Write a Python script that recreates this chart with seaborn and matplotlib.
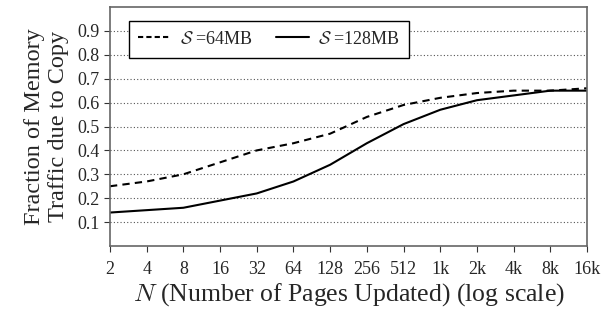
import matplotlib
matplotlib.use("Agg")
import matplotlib.pyplot as plt
import seaborn as sns
import pandas as pd
import numpy as np

x_labels = ["2", "4", "8", "16", "32", "64", "128", "256", "512", "1k", "2k", "4k", "8k", "16k"]
s64 = [0.25, 0.27, 0.30, 0.35, 0.40, 0.43, 0.47, 0.54, 0.59, 0.62, 0.64, 0.65, 0.65, 0.66]
s128 = [0.14, 0.15, 0.16, 0.19, 0.22, 0.27, 0.34, 0.43, 0.51, 0.57, 0.61, 0.63, 0.65, 0.65]
series_names = [r"$\mathcal{S}$ =64MB", r"$\mathcal{S}$ =128MB"]
y_ticks = [0.1, 0.2, 0.3, 0.4, 0.5, 0.6, 0.7, 0.8, 0.9]

sns.set_style("white")
plt.rcParams["font.family"] = ["Liberation Serif", "DejaVu Serif"]
plt.rcParams["mathtext.fontset"] = "cm"

df = pd.DataFrame({
    "pos": list(range(len(x_labels))) * 2,
    "val": s64 + s128,
    "series": [series_names[0]] * len(x_labels) + [series_names[1]] * len(x_labels),
})

fig = plt.figure(figsize=(6.16, 3.12), dpi=100)
ax = fig.add_axes([110 / 616, 1 - 246 / 312, (587 - 110) / 616, (246 - 7) / 312])

sns.lineplot(data=df, x="pos", y="val", hue="series", style="series",
             palette=["black", "black"], dashes=[(3.5, 2.5), ""], linewidth=1.5, ax=ax,
             legend=False)

for y in y_ticks:
    ax.axhline(y, color="#555555", linestyle=(0, (1, 2)), linewidth=0.8, zorder=0)

ax.set_xlim(0, len(x_labels) - 1)
ax.set_ylim(0, 1.0)
ax.set_xticks(range(len(x_labels)))
ax.set_xticklabels(x_labels)
ax.set_yticks(y_ticks)
ax.set_yticklabels([f"{v:.1f}" for v in y_ticks])
ax.tick_params(axis="both", labelsize=13, length=4, width=0.8, color="#333333", direction="out",
               bottom=True, left=True)
ax.tick_params(axis="x", pad=7)
for sp in ax.spines.values():
    sp.set_color("#666666")
    sp.set_linewidth(1.2)

ax.set_xlabel(r"$N$ (Number of Pages Updated) (log scale)", fontsize=18.5, labelpad=2)
ax.set_ylabel("Fraction of Memory\nTraffic due to Copy", fontsize=17.5, linespacing=1.15,
              labelpad=6)

from matplotlib.lines import Line2D
handles = [Line2D([], [], color="black", lw=1.5, dashes=(2.5, 1.5)),
           Line2D([], [], color="black", lw=1.5)]
leg = ax.legend(handles, series_names, loc="upper left", bbox_to_anchor=(0.02, 0.98),
                ncol=2, fontsize=13, frameon=True, fancybox=False, framealpha=1,
                edgecolor="black", handlelength=1.8, handletextpad=0.5, columnspacing=1.3,
                borderpad=0.55)
leg.get_frame().set_linewidth(1.0)

fig.savefig("out.png", dpi=100)
